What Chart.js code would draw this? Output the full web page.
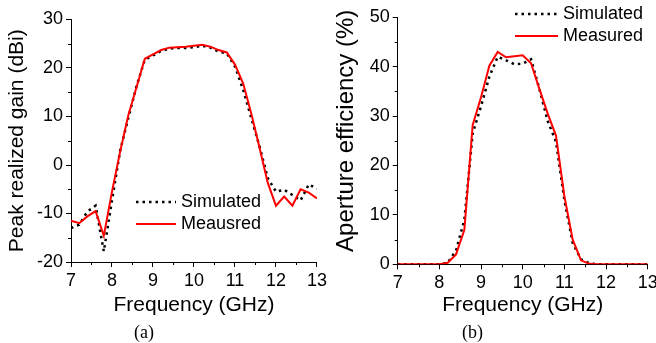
<!DOCTYPE html>
<html>
<head>
<meta charset="utf-8">
<script src="https://cdn.jsdelivr.net/npm/chart.js@4.4.1/dist/chart.umd.min.js"></script>
<style>
  html, body { margin: 0; padding: 0; background: #fff; overflow: hidden; }
  body { width: 656px; height: 343px; position: relative; }
  canvas { position: absolute; top: 0; }
  #gainChart { left: 0; }
  #effChart { left: 328px; }
  .cap { position: absolute; top: 323px; font: 18px 'Liberation Serif', 'Times New Roman', serif; line-height: 18px; color: #000; }
</style>
</head>
<body>
<canvas id="gainChart" width="330" height="343"></canvas>
<canvas id="effChart" width="345" height="343"></canvas>
<div class="cap" style="left:134px">(a)</div>
<div class="cap" style="left:462px">(b)</div>
<script>
// ===== DATA =====
const freq = [7.0, 7.2, 7.4, 7.6, 7.8, 8.0, 8.2, 8.4, 8.6, 8.8, 9.0, 9.2, 9.4, 9.6, 9.8, 10.0,
  10.2, 10.4, 10.6, 10.8, 11.0, 11.2, 11.4, 11.6, 11.8, 12.0, 12.2, 12.4, 12.6, 12.8, 13.0];

// peak realized gain (dBi)
const gainSim = [-13.0, -12.3, -9.6, -8.4, -17.8, -7.3, 3.0, 9.8, 16.3, 21.7, 22.6, 23.5, 24.0, 24.1, 24.1, 24.3,
  24.6, 24.2, 23.4, 23.0, 20.3, 15.5, 9.6, 3.8, -2.7, -5.5, -5.1, -6.2, -7.3, -4.0, -4.9];
const gainMeas = [-11.5, -12.0, -10.6, -9.5, -14.6, -5.5, 2.8, 10.3, 16.1, 21.9, 22.8, 23.7, 24.2, 24.3, 24.4, 24.6,
  24.8, 24.4, 23.7, 23.2, 20.7, 16.8, 10.5, 3.5, -3.7, -8.4, -6.5, -8.4, -5.0, -5.7, -6.9];

// aperture efficiency (%)
const effSim = [0, 0, 0, 0, 0, 0, 0.3, 2.8, 9.0, 26.5, 32.0, 38.0, 42.0, 41.3, 40.5, 40.6,
  41.5, 35.5, 29.0, 24.8, 13.0, 4.3, 1.0, 0.2, 0, 0, 0, 0, 0, 0, 0];
const effMeas = [0, 0, 0, 0, 0, 0, 0.3, 2.0, 7.0, 28.2, 33.8, 40.2, 43.0, 41.9, 42.1, 42.3,
  40.7, 35.5, 30.5, 26.0, 13.8, 5.0, 0.8, 0.1, 0, 0, 0, 0, 0, 0, 0];

const xTicks = [7, 13, 1];      // min, max, step
const gainTicks = [-20, 30, 10];
const effTicks = [0, 50, 10];

const FONT = "'Liberation Sans', Arial, sans-serif";

// ===== PLUGINS =====
// half-step ticks on both axes
const minorTicks = {
  id: 'minorTicks',
  afterDraw(chart) {
    const { ctx, chartArea: a, scales: { x, y } } = chart;
    ctx.save();
    ctx.strokeStyle = '#000';
    ctx.lineWidth = 1;
    ctx.beginPath();
    const sx = x.options.ticks.stepSize, sy = y.options.ticks.stepSize;
    for (let v = x.min + sx / 2; v < x.max; v += sx) {
      const px = Math.round(x.getPixelForValue(v)) + 0.5;
      ctx.moveTo(px, a.bottom); ctx.lineTo(px, a.bottom + 3);
    }
    for (let v = y.min + sy / 2; v < y.max; v += sy) {
      const py = Math.round(y.getPixelForValue(v)) + 0.5;
      ctx.moveTo(a.left, py); ctx.lineTo(a.left - 3, py);
    }
    ctx.stroke();
    ctx.restore();
  }
};

// legend placed inside the figure
const insetLegend = {
  id: 'insetLegend',
  afterDraw(chart, args, opts) {
    const ctx = chart.ctx;
    ctx.save();
    ctx.font = '18px ' + FONT;
    ctx.textBaseline = 'middle';
    ctx.fillStyle = '#000';
    chart.data.datasets.forEach((ds, i) => {
      const y = opts.top + i * opts.rowGap;
      ctx.strokeStyle = ds.borderColor;
      ctx.lineWidth = ds.borderWidth;
      ctx.setLineDash(ds.borderDash || []);
      ctx.beginPath();
      ctx.moveTo(opts.left, y);
      ctx.lineTo(opts.left + opts.lineLen, y);
      ctx.stroke();
      ctx.setLineDash([]);
      ctx.fillText(ds.label, opts.left + opts.lineLen + 5, y);
    });
    ctx.restore();
  }
};

// ===== HELPERS =====
function makeScale(t, title, titleSize, titlePad, size, horizontal) {
  return {
    type: 'linear',
    min: t[0], max: t[1],
    ticks: { stepSize: t[2], color: '#000', padding: 3, font: { family: FONT, size: 18 } },
    grid: { drawOnChartArea: false, color: '#000', tickLength: 5 },
    border: { color: '#000', width: 1 },
    title: { display: true, text: title, color: '#000', padding: { top: titlePad, bottom: 0 },
      font: { family: FONT, size: titleSize } },
    afterFit(s) { if (horizontal) s.height = size; else s.width = size; }
  };
}

function simSet(label, data) {
  return { label, data: freq.map((f, i) => ({ x: f, y: data[i] })), borderColor: '#000',
    borderWidth: 2.5, borderDash: [2.5, 4], pointRadius: 0, tension: 0, fill: false, order: 1 };
}
function measSet(label, data) {
  return { label, data: freq.map((f, i) => ({ x: f, y: data[i] })), borderColor: '#ff0000',
    borderWidth: 2, pointRadius: 0, tension: 0, fill: false, order: 0 };
}

// ===== (a) GAIN =====
new Chart(document.getElementById('gainChart'), {
  type: 'line',
  data: { datasets: [simSet('Simulated', gainSim), measSet('Meausred', gainMeas)] },
  options: {
    responsive: false, animation: false,
    layout: { padding: { top: 19.5, right: 13, bottom: 25, left: 0 } },
    plugins: { legend: { display: false }, tooltip: { enabled: false },
      insetLegend: { left: 136, top: 202, rowGap: 22, lineLen: 40 } },
    scales: {
      x: makeScale(xTicks, 'Frequency (GHz)', 21, 0, 56, true),
      y: makeScale(gainTicks, 'Peak realized gain (dBi)', 21, 4.9, 71, false)
    }
  },
  plugins: [minorTicks, insetLegend]
});

// ===== (b) APERTURE EFFICIENCY =====
new Chart(document.getElementById('effChart'), {
  type: 'line',
  data: { datasets: [simSet('Simulated', effSim), measSet('Measured', effMeas)] },
  options: {
    responsive: false, animation: false,
    layout: { padding: { top: 17.3, right: 25.3, bottom: 25.4, left: 0 } },
    plugins: { legend: { display: false }, tooltip: { enabled: false },
      insetLegend: { left: 187, top: 14, rowGap: 22, lineLen: 43 } },
    scales: {
      x: makeScale(xTicks, 'Frequency (GHz)', 21, 0, 53.3, true),
      y: makeScale(effTicks, '   Aperture efficiency (%)', 24, 4.3, 69.7, false)
    }
  },
  plugins: [minorTicks, insetLegend]
});
</script>
</body>
</html>
